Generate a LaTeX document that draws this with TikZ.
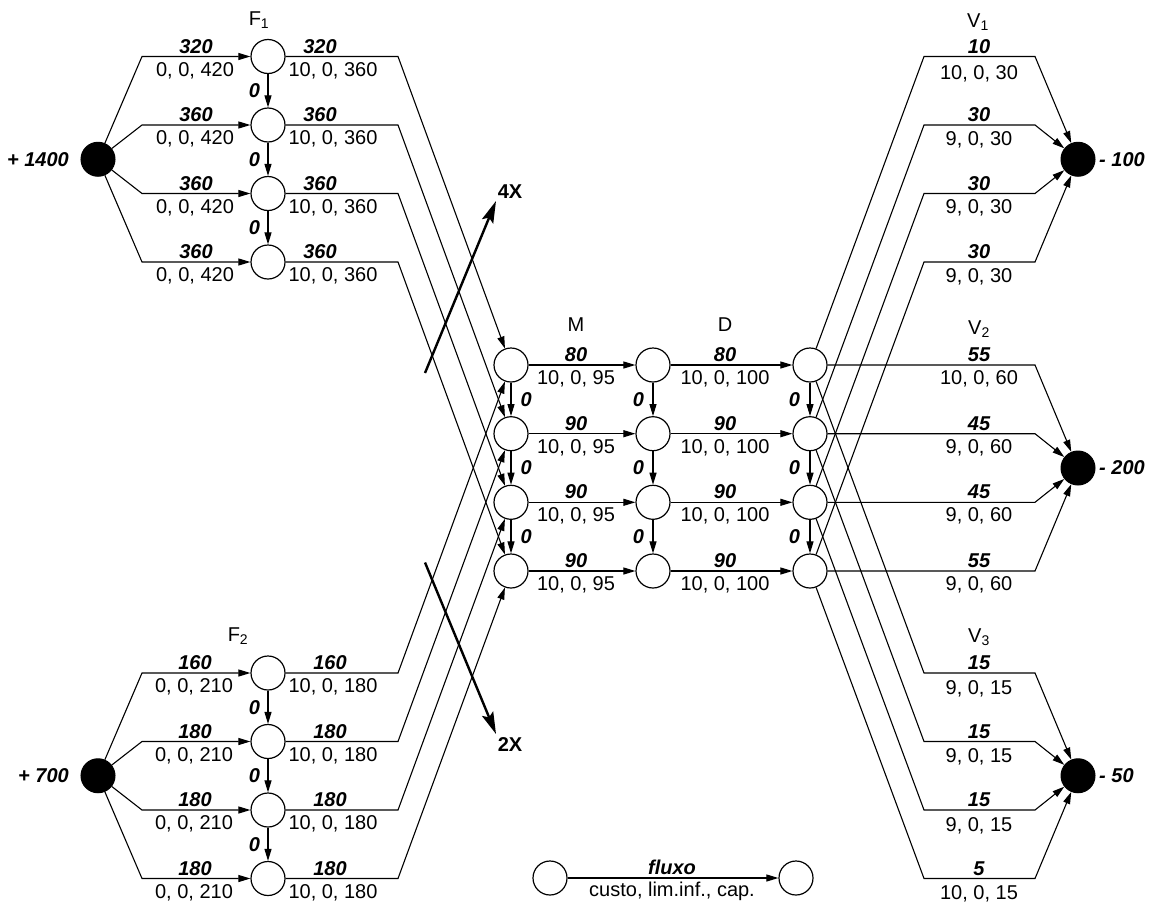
\documentclass[tikz,border=0pt]{standalone}
\usepackage{fontspec}
\setmainfont{Liberation Sans}
\usetikzlibrary{arrows.meta}
\newcommand\regf{\fontsize{20}{24}\selectfont}
\newcommand\flf{\fontsize{20}{24}\selectfont\bfseries\itshape}
\newcommand\bff{\fontsize{20}{24}\selectfont\bfseries}
\begin{document}
\begin{tikzpicture}[x=1pt,y=-1pt,
  wn/.style={circle,draw,line width=1.2pt,minimum size=34pt,inner sep=0pt},
  bn/.style={circle,draw,fill=black,line width=1pt,minimum size=34pt,inner sep=0pt},
  ln/.style={line width=1.1pt},
  ar/.style={ln,-{Triangle[length=12pt,width=7pt]}},
  big/.style={line width=2.4pt,-{Stealth[length=22pt,width=12pt,inset=4pt]}},
  fl/.style={font=\flf,inner sep=0pt,anchor=base},
  co/.style={font=\regf,inner sep=0pt,anchor=base},
  zl/.style={font=\flf,inner sep=0pt},
  tl/.style={font=\regf,inner sep=0pt},
  bl/.style={font=\bff,inner sep=0pt},
]
\useasboundingbox (0,0) rectangle (1153,905);

% sources and sinks
\node[bn] (S1) at (98,159.25) {};
\node[bn] (S2) at (98,775.75) {};
\node[bn] (V1) at (1078,159.25) {};
\node[bn] (V2) at (1078,468) {};
\node[bn] (V3) at (1078,775.75) {};
\node[zl,anchor=east] (tS1) at (69,159.25) {+ 1400};
\node[zl,anchor=east] (tS2) at (69,775.75) {+ 700};
\node[zl,anchor=west] (tV1) at (1099,159.25) {- 100};
\node[zl,anchor=west] (tV2) at (1099,468) {- 200};
\node[zl,anchor=west] (tV3) at (1099,775.75) {- 50};

% white nodes
\foreach \i/\y in {1/56.5,2/125,3/193.5,4/262}{\node[wn] (A\i) at (268,\y) {};}
\foreach \i/\y in {1/673,2/741.5,3/810,4/878.5}{\node[wn] (B\i) at (268,\y) {};}
\foreach \i/\y in {1/365,2/433.7,3/502.3,4/571}{
  \node[wn] (M\i) at (511,\y) {};
  \node[wn] (D\i) at (653,\y) {};
  \node[wn] (R\i) at (810,\y) {};
}

% titles
\node[tl] (tF1) at (259,20.5) {F\textsubscript{1}};
\node[tl] (tF2) at (238,636) {F\textsubscript{2}};
\node[tl] (tM) at (576,325) {M};
\node[tl] (tD) at (725,325) {D};
\node[tl] (tW1) at (978,22) {V\textsubscript{1}};
\node[tl] (tW2) at (979,329) {V\textsubscript{2}};
\node[tl] (tW3) at (979,637) {V\textsubscript{3}};

% F1 edges
\foreach \i/\y/\f in {1/56.5/320,2/125/360,3/193.5/360,4/262/360}{
  \draw[ar] (S1) -- (142,\y) -- (A\i);
  \draw[ar] (A\i) -- (398,\y) -- (M\i);
  \node[fl] (Aif\i) at (196,\y-3.5) {\f};
  \node[co] (Aic\i) at (195,\y+19.5) {0, 0, 420};
  \node[fl] (Aof\i) at (320,\y-3.5) {\f};
  \node[co] (Aoc\i) at (333,\y+19.5) {10, 0, 360};
}
% F2 edges
\foreach \i/\y/\f in {1/673/160,2/741.5/180,3/810/180,4/878.5/180}{
  \draw[ar] (S2) -- (142,\y) -- (B\i);
  \draw[ar] (B\i) -- (398,\y) -- (M\i);
  \node[fl] (Bif\i) at (195,\y-3.5) {\f};
  \node[co] (Bic\i) at (194,\y+19.5) {0, 0, 210};
  \node[fl] (Bof\i) at (330,\y-3.5) {\f};
  \node[co] (Boc\i) at (333,\y+19.5) {10, 0, 180};
}
% vertical arcs
\foreach \a/\b in {1/2,2/3,3/4}{
  \draw[ar] (A\a) -- node[zl,left=7.5pt] (zA\a) {0} (A\b);
  \draw[ar] (B\a) -- node[zl,left=7.5pt] (zB\a) {0} (B\b);
  \draw[ar] (M\a) -- node[zl,right=9pt] (zM\a) {0} (M\b);
  \draw[ar] (D\a) -- node[zl,left=8.5pt] (zD\a) {0} (D\b);
  \draw[ar] (R\a) -- node[zl,left=9.5pt] (zR\a) {0} (R\b);
}
% M -> D -> R, and R -> V2
\foreach \i/\y/\f/\g/\c in {1/365/80/55/{10, 0, 60},2/433.7/90/45/{9, 0, 60},3/502.3/90/45/{9, 0, 60},4/571/90/55/{9, 0, 60}}{
  \draw[ar] (M\i) -- (D\i);
  \draw[ar] (D\i) -- (R\i);
  \draw[ar] (R\i) -- (1035,\y) -- (V2);
  \node[fl] (Mf\i) at (576,\y-3.5) {\f};
  \node[co] (Mc\i) at (576,\y+19.5) {10, 0, 95};
  \node[fl] (Df\i) at (725,\y-3.5) {\f};
  \node[co] (Dc\i) at (725,\y+19.5) {10, 0, 100};
  \node[fl] (Wf\i) at (979,\y-3.5) {\g};
  \node[co] (Wc\i) at (979,\y+19.5) {\c};
}
% R -> V1
\foreach \i/\y/\f/\c/\o in {1/56.5/10/{10, 0, 30}/23,2/125/30/{9, 0, 30}/20,3/193.5/30/{9, 0, 30}/19.5,4/262/30/{9, 0, 30}/20}{
  \draw[ar] (R\i) -- (924,\y) -- (1035,\y) -- (V1);
  \node[fl] (Uf\i) at (979,\y-3.5) {\f};
  \node[co] (Uc\i) at (979,\y+\o) {\c};
}
% R -> V3
\foreach \i/\y/\f/\c in {1/673/15/{9, 0, 15},2/741.5/15/{9, 0, 15},3/810/15/{9, 0, 15},4/878.5/5/{10, 0, 15}}{
  \draw[ar] (R\i) -- (924,\y) -- (1035,\y) -- (V3);
  \node[fl] (Xf\i) at (979,\y-3.5) {\f};
  \node[co] (Xc\i) at (979,\y+21) {\c};
}

% scaling arrows
\coordinate (x4a) at (425,373);
\coordinate (x4b) at (496,201);
\draw[big] (x4a) -- (x4b);
\node[bl] (x4) at (510,191.5) {4X};
\coordinate (x2a) at (425,562.5);
\coordinate (x2b) at (496,734);
\draw[big] (x2a) -- (x2b);
\node[bl] (x2) at (510,745) {2X};

% legend
\node[wn] (LA) at (550,878) {};
\node[wn] (LB) at (796,878) {};
\draw[ar] (LA) -- (LB);
\node[fl] (Lf) at (672,874) {fluxo};
\node[co] (Lc) at (672,896.5) {custo, lim.inf., cap.};
\end{tikzpicture}
\end{document}
